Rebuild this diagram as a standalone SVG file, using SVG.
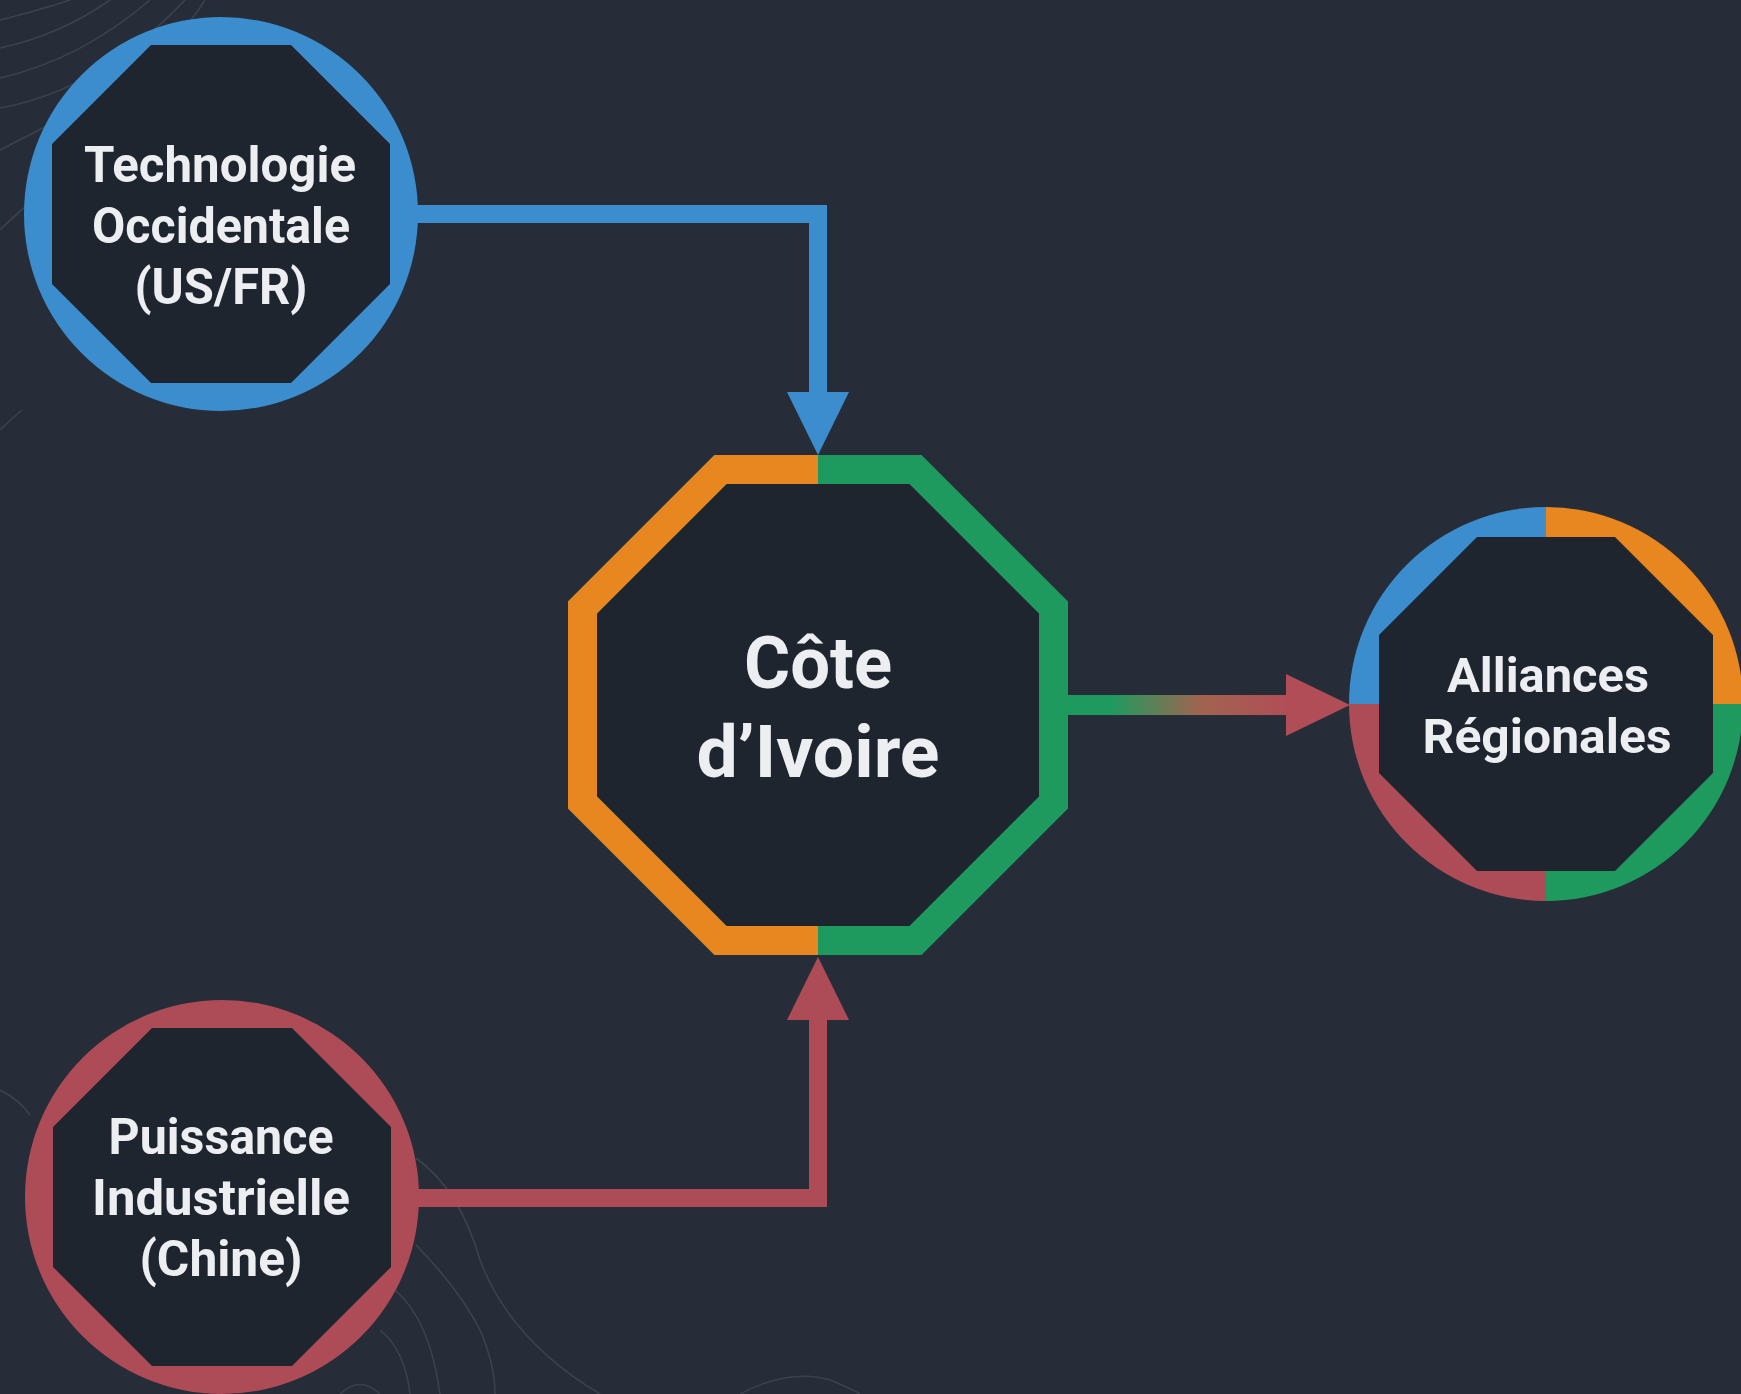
<svg xmlns="http://www.w3.org/2000/svg" width="1741" height="1394" viewBox="0 0 1741 1394">
<defs>
<style>
.bg{fill:#262d38}
.contour{fill:none;stroke:#ffffff;stroke-opacity:0.1;stroke-width:1.6}
.inner{fill:#1f252f}
.lbl{font-family:Roboto,"Liberation Sans","DejaVu Sans",sans-serif;font-weight:700;fill:#eceef1;text-anchor:middle}
.s{font-size:50px}
.m{font-size:48px}
.l{font-size:72px}
.conn{fill:none;stroke-width:18;stroke-linejoin:miter}
</style>
<linearGradient id="gr" x1="1068" y1="0" x2="1290" y2="0" gradientUnits="userSpaceOnUse">
<stop offset="0" stop-color="#1f9a5f"/>
<stop offset="0.2" stop-color="#1f9a5f"/>
<stop offset="0.6" stop-color="#a2634f"/>
<stop offset="1" stop-color="#b14d57"/>
</linearGradient>
<clipPath id="leftHalf"><rect x="0" y="0" width="818" height="1394"/></clipPath>
</defs>
<rect class="bg" x="0" y="0" width="1741" height="1394"/>
<g id="contours">
<path class="contour" d="M0 20 Q40 10 70 0"/>
<path class="contour" d="M0 48 Q60 35 110 0"/>
<path class="contour" d="M0 78 Q80 60 150 0"/>
<path class="contour" d="M0 108 Q100 90 185 0"/>
<path class="contour" d="M0 150 Q60 120 130 80 Q180 40 205 0"/>
<path class="contour" d="M0 230 Q20 210 40 195"/>
<path class="contour" d="M0 430 Q10 420 22 410"/>
<path class="contour" d="M0 1090 Q20 1100 30 1115"/>
<path class="contour" d="M416 1158 Q460 1190 480 1260 Q510 1340 600 1394"/>
<path class="contour" d="M416 1245 Q460 1290 480 1330 Q495 1365 495 1394"/>
<path class="contour" d="M395 1290 Q430 1320 440 1394"/>
<path class="contour" d="M380 1330 Q405 1350 410 1394"/>
<path class="contour" d="M340 1394 Q360 1375 380 1394"/>
<path class="contour" d="M740 1394 Q790 1368 830 1380 Q850 1388 860 1394"/>
</g>
<g id="connectors">
<path class="conn" stroke="#3b8dcd" d="M414 214 H818 V394"/>
<polygon fill="#3b8dcd" points="787,392 849,392 818,455"/>
<path class="conn" stroke="#ad4c57" d="M414 1198 H818 V1018"/>
<polygon fill="#ad4c57" points="787,1020 849,1020 818,957"/>
<rect x="1066" y="695" width="224" height="20" fill="url(#gr)"/>
<polygon fill="#b14d57" points="1286,674 1286,736 1350,705"/>
</g>
<g id="node-tech">
<circle cx="221" cy="214" r="197" fill="#3b8dcd"/>
<polygon class="inner" points="151,45 291,45 390,144 390,284 291,383 151,383 52,284 52,144"/>
<text class="lbl s" x="220" y="182" textLength="272" lengthAdjust="spacingAndGlyphs">Technologie</text>
<text class="lbl s" x="221" y="243" textLength="258" lengthAdjust="spacingAndGlyphs">Occidentale</text>
<text class="lbl s" x="221" y="304" textLength="173" lengthAdjust="spacingAndGlyphs">(US/FR)</text>
</g>
<g id="node-chine">
<circle cx="222" cy="1197" r="197" fill="#ad4c57"/>
<polygon class="inner" points="152,1028 292,1028 391,1127 391,1267 292,1366 152,1366 53,1267 53,1127"/>
<text class="lbl s" x="221" y="1154" textLength="225" lengthAdjust="spacingAndGlyphs">Puissance</text>
<text class="lbl s" x="221" y="1215" textLength="258" lengthAdjust="spacingAndGlyphs">Industrielle</text>
<text class="lbl s" x="221" y="1276" textLength="163" lengthAdjust="spacingAndGlyphs">(Chine)</text>
</g>
<g id="node-civ">
<polygon class="inner" points="720.5,469.5 915.5,469.5 1053.5,607.5 1053.5,802.5 915.5,940.5 720.5,940.5 582.5,802.5 582.5,607.5"/>
<polygon fill="none" stroke="#1f9a5f" stroke-width="29" points="720.5,469.5 915.5,469.5 1053.5,607.5 1053.5,802.5 915.5,940.5 720.5,940.5 582.5,802.5 582.5,607.5"/>
<polygon fill="none" stroke="#e8861f" stroke-width="29" clip-path="url(#leftHalf)" points="720.5,469.5 915.5,469.5 1053.5,607.5 1053.5,802.5 915.5,940.5 720.5,940.5 582.5,802.5 582.5,607.5"/>
<text class="lbl l" x="818" y="688" textLength="148" lengthAdjust="spacingAndGlyphs">Côte</text>
<text class="lbl l" x="818" y="777" textLength="243" lengthAdjust="spacingAndGlyphs">d’Ivoire</text>
</g>
<g id="node-alliances">
<path fill="#3b8dcd" d="M1546 704 L1349 704 A197 197 0 0 1 1546 507 Z"/>
<path fill="#e8861f" d="M1546 704 L1546 507 A197 197 0 0 1 1743 704 Z"/>
<path fill="#1f9a5f" d="M1546 704 L1743 704 A197 197 0 0 1 1546 901 Z"/>
<path fill="#ad4c57" d="M1546 704 L1546 901 A197 197 0 0 1 1349 704 Z"/>
<polygon class="inner" points="1477,537 1615,537 1713,635 1713,773 1615,871 1477,871 1379,773 1379,635"/>
<text class="lbl m" x="1548" y="692" textLength="202" lengthAdjust="spacingAndGlyphs">Alliances</text>
<text class="lbl m" x="1547" y="753" textLength="249" lengthAdjust="spacingAndGlyphs">Régionales</text>
</g>
</svg>
